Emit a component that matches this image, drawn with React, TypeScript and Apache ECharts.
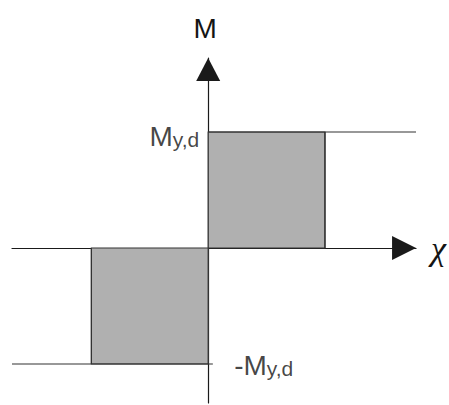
import React, { useEffect, useRef } from "react";
import * as echarts from "echarts";

// Idealised moment–curvature (M–χ) diagram, units of χ_y and M_y,d
const xRange = [-1.68, 1.78];
const yRange = [-1.336, 1.638];
// shaded rectangles: [x0, y0, x1, y1]
const rects: number[][] = [
  [0, 0, 1, 1],
  [-1, -1, 0, 0],
];
// plateau lines
const upperLine: number[][] = [
  [0, 1],
  [1.78, 1],
];
const lowerLine: number[][] = [
  [-1.68, -1],
  [0.04, -1],
];
// rectangle outer edges
const rightEdge: number[][] = [
  [1, 0],
  [1, 1],
];
const leftEdge: number[][] = [
  [-1, 0],
  [-1, -1],
];
const labelPoints = [
  { value: [0, 1], text: "{m|M}{s|y,d}", side: "left" },
  { value: [0, -1], text: "{m|-M}{s|y,d}", side: "right" },
];

const INK = "#141414";
const FONT = "'Liberation Sans', Arial, sans-serif";

export default function App() {
  const ref = useRef<HTMLDivElement>(null);
  useEffect(() => {
    if (!ref.current) return;
    const chart = echarts.init(ref.current, undefined, { renderer: "svg" });
    const rich = {
      m: { fontSize: 28, fontFamily: FONT, color: INK },
      s: {
        fontSize: 21,
        fontFamily: FONT,
        color: INK,
        verticalAlign: "bottom",
        lineHeight: 12,
      },
    };
    const lineSeries = (data: number[][]) => ({
      type: "line",
      data,
      symbol: "none",
      clip: false,
      lineStyle: { color: "#333", width: 1.2 },
      z: 4,
    });
    chart.setOption({
      animation: false,
      backgroundColor: "#fff",
      grid: { left: 12, width: 405, top: 58, bottom: 2 },
      xAxis: {
        type: "value",
        min: xRange[0],
        max: xRange[1],
        name: "χ",
        nameLocation: "end",
        nameGap: 15,
        nameTextStyle: {
          fontSize: 34,
          fontFamily: "'Liberation Serif', 'DejaVu Serif', serif",
          fontStyle: "italic",
          color: INK,
          verticalAlign: "middle",
          padding: [0, 0, 2, 0],
        },
        axisLine: {
          onZero: true,
          lineStyle: { color: "#1a1a1a", width: 1.2 },
          symbol: ["none", "triangle"],
          symbolSize: [24, 24],
          symbolOffset: [0, -12],
        },
        axisTick: { show: false },
        axisLabel: { show: false },
        splitLine: { show: false },
      },
      yAxis: {
        type: "value",
        min: yRange[0],
        max: yRange[1],
        name: "M",
        nameLocation: "end",
        nameGap: 16,
        nameTextStyle: {
          fontSize: 28,
          fontFamily: FONT,
          color: INK,
          padding: [0, 6, 0, 0],
        },
        axisLine: {
          onZero: true,
          lineStyle: { color: "#1a1a1a", width: 1.2 },
          symbol: ["none", "triangle"],
          symbolSize: [24, 23],
          symbolOffset: [0, -11.5],
        },
        axisTick: { show: false },
        axisLabel: { show: false },
        splitLine: { show: false },
      },
      series: [
        {
          type: "custom",
          data: rects,
          z: 3,
          renderItem: (params: any, api: any) => {
            const p0 = api.coord([api.value(0), api.value(1)]);
            const p1 = api.coord([api.value(2), api.value(3)]);
            return {
              type: "rect",
              shape: {
                x: Math.min(p0[0], p1[0]),
                y: Math.min(p0[1], p1[1]),
                width: Math.abs(p1[0] - p0[0]),
                height: Math.abs(p1[1] - p0[1]),
              },
              style: { fill: "#b0b0b0", stroke: "#333", lineWidth: 1.2 },
            };
          },
        },
        lineSeries(upperLine),
        lineSeries(lowerLine),
        lineSeries(rightEdge),
        lineSeries(leftEdge),
        {
          type: "scatter",
          symbolSize: 0,
          z: 5,
          data: labelPoints.map((p) => ({
            value: p.value,
            label: {
              show: true,
              position: p.side,
              distance: p.side === "left" ? 9 : 26,
              offset: p.side === "left" ? [0, 4] : [0, 1],
              formatter: p.text,
              rich,
            },
          })),
        },
      ],
    });
    return () => chart.dispose();
  }, []);
  return (
    <div
      ref={ref}
      style={{ position: "fixed", left: 0, top: 0, width: 449, height: 405 }}
    />
  );
}
